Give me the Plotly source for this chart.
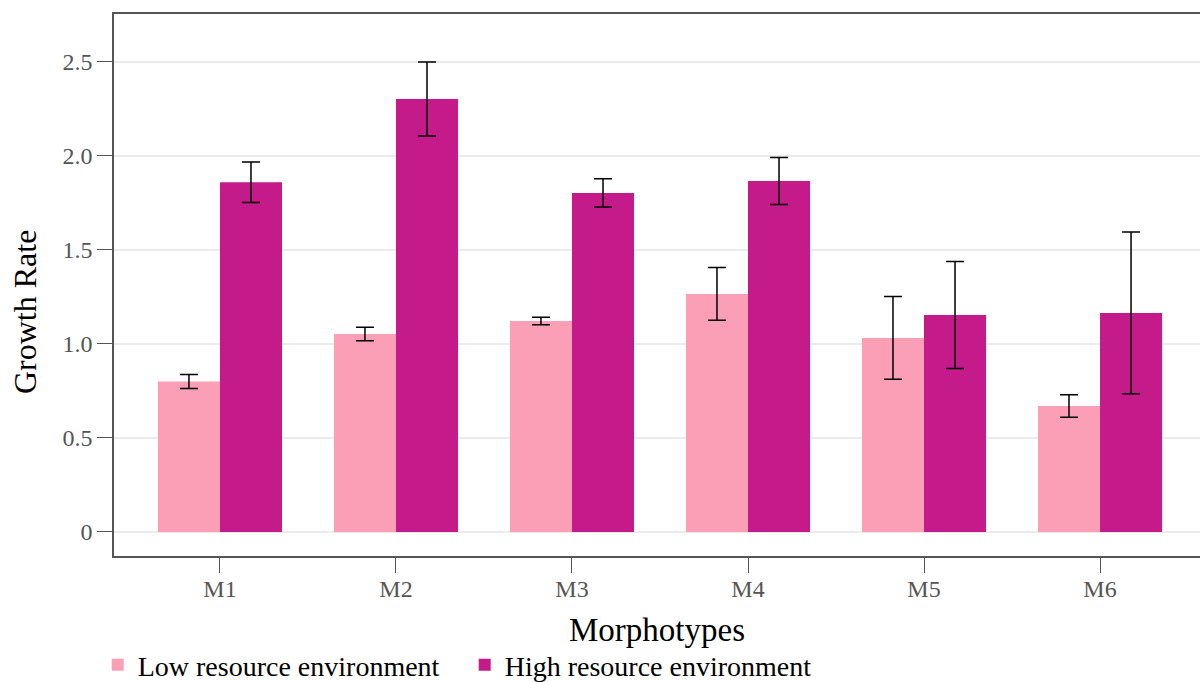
import plotly.graph_objects as go

categories = ["M1", "M2", "M3", "M4", "M5", "M6"]
low_values = [0.80, 1.053, 1.122, 1.266, 1.032, 0.670]
low_errors = [0.037, 0.036, 0.02, 0.14, 0.22, 0.06]
high_values = [1.86, 2.303, 1.803, 1.867, 1.154, 1.165]
high_errors = [0.108, 0.197, 0.075, 0.125, 0.285, 0.43]
y_tick_vals = [0, 0.5, 1.0, 1.5, 2.0, 2.5]
y_tick_text = ["0", "0.5", "1.0", "1.5", "2.0", "2.5"]

FONT = "Liberation Serif"

fig = go.Figure()
fig.add_trace(go.Bar(
    x=categories, y=low_values, name="Low resource environment",
    marker=dict(color="#fa9fb5", line=dict(width=0)),
    error_y=dict(type="data", array=low_errors, color="black", thickness=1.5, width=9),
))
fig.add_trace(go.Bar(
    x=categories, y=high_values, name="High resource environment",
    marker=dict(color="#c51b8a", line=dict(width=0)),
    error_y=dict(type="data", array=high_errors, color="black", thickness=1.5, width=9),
))

fig.add_annotation(
    text="Growth Rate", textangle=-90, showarrow=False,
    xref="paper", yref="paper", x=-0.082, y=0.45, xanchor="center", yanchor="middle",
    font=dict(family=FONT, size=32, color="black"),
)

fig.update_layout(
    width=1200, height=682,
    margin=dict(l=114, r=0, t=14, b=126, autoexpand=False),
    paper_bgcolor="white", plot_bgcolor="white",
    barmode="group", bargap=0.295, bargroupgap=0,
    font=dict(family=FONT, size=20, color="black"),
    showlegend=True,
    legend=dict(orientation="h", x=-0.015, xanchor="left", y=-0.155, yanchor="top",
                font=dict(family=FONT, size=28, color="black"),
                itemwidth=30, entrywidth=322, entrywidthmode="pixels",
                traceorder="normal"),
    xaxis=dict(
        range=[-0.602, 5.568],
        showline=True, linecolor="#555", linewidth=1.5, mirror=True,
        ticks="outside", ticklen=15, tickcolor="#555", tickwidth=1.2,
        ticklabelstandoff=-5,
        tickfont=dict(family=FONT, size=24, color="#555"),
        title=dict(text="Morphotypes", font=dict(family=FONT, size=33, color="black"), standoff=17),
        showgrid=False,
    ),
    yaxis=dict(
        range=[-0.128, 2.755],
        tickvals=y_tick_vals, ticktext=y_tick_text,
        showline=True, linecolor="#555", linewidth=1.5, mirror=False,
        ticks="outside", ticklen=15, tickcolor="#555", tickwidth=1.2,
        tickfont=dict(family=FONT, size=24, color="#555"),
        showgrid=True, gridcolor="#ebebeb", gridwidth=2,
        zeroline=False,
    ),
)

fig.write_html("out.html")
